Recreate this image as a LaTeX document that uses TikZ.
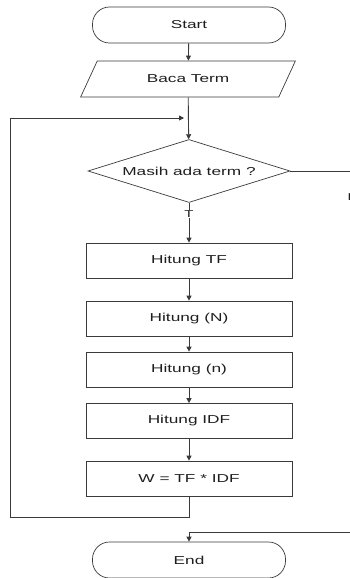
\documentclass[tikz,border=0pt]{standalone}
\usepackage{fontspec}
\setmainfont[FakeStretch=1.5]{Liberation Sans}
\usepackage{xcolor}
\usepackage{tikz}
\usetikzlibrary{shapes.geometric,arrows.meta}
\definecolor{line}{HTML}{3A3A3A}
\definecolor{ink}{HTML}{1E1E1E}
\tikzset{
  conn/.style={draw=line, line width=0.9pt, -{Triangle[length=5pt,width=5pt]}},
  plain/.style={draw=line, line width=0.9pt},
  term/.style={draw=line, line width=0.7pt, rounded corners=17pt, minimum width=193pt, minimum height=36pt, text=ink},
  io/.style={draw=line, line width=0.7pt, trapezium, trapezium left angle=61, trapezium right angle=119, trapezium stretches=true, minimum width=215pt, minimum height=36pt, text=ink},
  cond/.style={draw=line, line width=0.7pt, diamond, minimum width=202pt, minimum height=63pt, inner sep=0pt},
  proc/.style={draw=line, line width=0.7pt, minimum width=206pt, minimum height=35pt, text=ink},
  lab/.style={text=ink, font=\fontsize{10}{11}\selectfont},
}

\begin{document}
\begin{tikzpicture}[x=1pt, y=-1pt, font=\fontsize{11.5}{13}\selectfont]
  \useasboundingbox (0,0) rectangle (350,578);
  \clip (0,0) rectangle (350,578);

  \node[term] (start) at (189,25) {Start};
  \node[io] (baca) at (188,79) {Baca Term};
  \node[cond, label={[text=ink]center:Masih ada term ?}] (cek) at (189,171) {};
  \node[proc] (tf) at (189,260.5) {Hitung TF};
  \node[proc] (bigN) at (189,318.5) {Hitung (N)};
  \node[proc] (smalln) at (189,369.5) {Hitung (n)};
  \node[proc] (idf) at (189,421) {Hitung IDF};
  \node[proc] (w) at (189,478.5) {W = TF * IDF};
  \node[term] (end) at (189,560) {End};

  \draw[conn] (start) -- (baca);
  \draw[conn] (baca) -- (cek);
  \draw[conn] (cek) -- node[lab, pos=0.28, fill=white, inner sep=1pt] {T} (tf);
  \draw[conn] (tf) -- (bigN);
  \draw[conn] (bigN) -- (smalln);
  \draw[conn] (smalln) -- (idf);
  \draw[conn] (idf) -- (w);

  % loop back to the condition
  \coordinate (loopin) at (184,118);
  \draw[conn] (w.south) |- (10,517) -- (10,118) -- (loopin);

  % false branch (runs off the right edge)
  \coordinate (falseout) at (352,171);
  \coordinate (falsein) at (352,532);
  \draw[plain] (cek.east) -- (falseout);
  \node[lab, anchor=west, inner sep=0pt] (flab) at (347.5,197) {F};
  \draw[conn] (falsein) -| (end.north);
\end{tikzpicture}
\end{document}
